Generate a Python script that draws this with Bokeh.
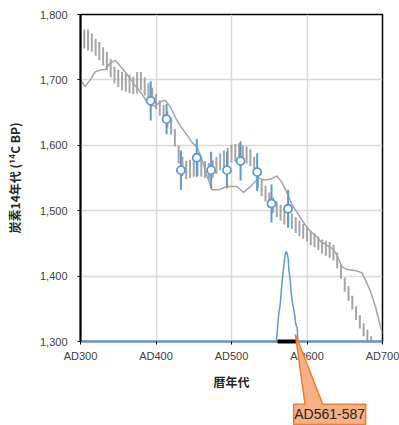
from bokeh.plotting import figure
from bokeh.layouts import column
from bokeh.models import ColumnDataSource, FixedTicker, NumeralTickFormatter, Range1d
from bokeh.core.properties import value
from bokeh.embed import file_html
from bokeh.resources import INLINE

# ---- calibration data (gray bars, every 5 years) ----
cal_years = list(range(300, 705, 5))
cal_high = [1773, 1777, 1777, 1771, 1763, 1758, 1750, 1743, 1732, 1720,
            1715, 1712, 1710, 1708, 1705, 1712, 1712, 1704, 1695, 1688,
            1679, 1669, 1662, 1652, 1642, 1625, 1600, 1583, 1576, 1578,
            1580, 1582, 1580, 1576, 1573, 1577, 1582, 1588, 1592, 1596,
            1601, 1602, 1603, 1600, 1598, 1594, 1582, 1562, 1547, 1538,
            1528, 1520, 1514, 1509, 1503, 1500, 1496, 1490, 1485, 1480,
            1475, 1469, 1465, 1460, 1456, 1454, 1452, 1448, 1436, 1418,
            1398, 1385, 1370, 1354, 1340, 1328, 1318, 1308, 1296, 1284,
            1272]
cal_low = [1743, 1748, 1745, 1743, 1737, 1730, 1722, 1715, 1704, 1695,
           1689, 1684, 1682, 1680, 1678, 1679, 1684, 1676, 1670, 1663,
           1655, 1645, 1637, 1627, 1616, 1598, 1572, 1553, 1548, 1550,
           1552, 1553, 1552, 1550, 1547, 1550, 1556, 1562, 1565, 1570,
           1574, 1575, 1576, 1574, 1572, 1568, 1556, 1535, 1522, 1514,
           1504, 1496, 1490, 1485, 1479, 1476, 1472, 1466, 1461, 1457,
           1453, 1447, 1444, 1440, 1434, 1431, 1428, 1424, 1412, 1396,
           1376, 1362, 1349, 1333, 1320, 1308, 1298, 1288, 1276, 1264,
           1252]

# ---- second calibration curve (gray line) ----
curve_years = [300, 306, 313, 319, 326, 333, 339, 346, 352, 359, 366, 372, 379, 386,
               392, 399, 405, 412, 419, 425, 432, 441, 448, 454, 461, 467, 474, 483,
               494, 507, 516, 526, 536, 543, 551, 560, 567, 574, 580, 587, 600, 613,
               618, 635, 640, 646, 653, 666, 673, 677, 684, 691, 697, 700]
curve_bp = [1700, 1690, 1700, 1712, 1715, 1716, 1725, 1730, 1722, 1712, 1702, 1692, 1682, 1670,
            1661, 1660, 1666, 1669, 1659, 1644, 1630, 1616, 1604, 1598, 1578, 1555, 1532, 1532,
            1537, 1537, 1528, 1538, 1550, 1547, 1548, 1553, 1543, 1526, 1510, 1497, 1474, 1460,
            1453, 1441, 1431, 1415, 1410, 1408, 1405, 1395, 1377, 1352, 1324, 1312]

# ---- measured samples (blue) ----
sample_years = [393, 414, 433, 454, 473, 494, 512, 534, 553, 575]
sample_bp = [1668, 1640, 1562, 1581, 1562, 1562, 1576, 1559, 1511, 1503]
sample_err = [30, 23, 30, 29, 28, 28, 30, 29, 29, 29]

# ---- calibrated probability distribution (relative) ----
prob_years = [300, 559, 560, 561, 562, 563, 564, 565, 566, 567, 568, 569, 570, 571, 572,
              573, 574, 575, 576, 577, 578, 579, 580, 581, 582, 583, 584, 585, 586, 587,
              588, 700]
prob_vals = [0, 0, 0.05, 0.15, 0.26, 0.33, 0.38, 0.46, 0.58, 0.66, 0.75, 0.82, 0.90, 0.96,
             1.00, 1.00, 0.97, 0.93, 0.80, 0.74, 0.66, 0.55, 0.48, 0.42, 0.38, 0.33, 0.28,
             0.20, 0.17, 0.16, 0, 0]

range_start = 561
range_end = 587

x_ticks = [300, 400, 500, 600, 700]
x_tick_labels = ["AD300", "AD400", "AD500", "AD600", "AD700"]
y_ticks = [1300, 1400, 1500, 1600, 1700, 1800]

GRAY = "#A5A5A5"
BLUE = "#5B9BD5"
TICK_FONT = "Liberation Sans"
JP_FONT = "Noto Sans CJK JP"

W, H = 399, 425
ML, MR, MT, MB = 80, 17, 14, 84
X0, X1, Y0, Y1 = 300, 700, 1300, 1800

p = figure(width=W, height=H, x_range=Range1d(X0, X1), y_range=Range1d(Y0, Y1),
           output_backend="svg", toolbar_location=None,
           min_border_left=ML, min_border_right=MR, min_border_top=MT, min_border_bottom=MB)
p.extra_y_ranges = {"prob": Range1d(0, 3.65)}

p.background_fill_color = "white"
p.border_fill_color = "white"
p.outline_line_color = "black"
p.outline_line_width = 1.5

# axes
p.xaxis.ticker = FixedTicker(ticks=x_ticks)
p.xaxis.major_label_overrides = {t: l for t, l in zip(x_ticks, x_tick_labels)}
p.yaxis.ticker = FixedTicker(ticks=y_ticks)
p.yaxis.formatter = NumeralTickFormatter(format="0,0")
for ax in (p.xaxis, p.yaxis):
    ax.minor_tick_line_color = None
    ax.major_tick_in = 0
    ax.major_tick_out = 3
    ax.major_tick_line_color = "black"
    ax.axis_line_color = "black"
    ax.axis_line_width = 2
    ax.major_label_text_font = TICK_FONT
    ax.major_label_text_font_size = "11px"
    ax.major_label_text_color = "#404040"
    ax.axis_label_text_font = JP_FONT
    ax.axis_label_text_font_style = "bold"
    ax.axis_label_text_font_size = "12px"
    ax.axis_label_text_color = "#262626"
p.xaxis.axis_line_color = BLUE
p.xaxis.major_label_standoff = 5
p.yaxis.major_label_standoff = 10
p.xaxis.axis_label = "暦年代"
p.yaxis.axis_label = "炭素14年代 (¹⁴C BP)"
p.xaxis.axis_label_standoff = 8
p.yaxis.axis_label_standoff = 14

p.xgrid.ticker = FixedTicker(ticks=x_ticks)
p.ygrid.ticker = FixedTicker(ticks=y_ticks)
p.grid.grid_line_color = "#D9D9D9"
p.grid.grid_line_width = 1.5

# gray calibration bars
cal_src = ColumnDataSource(dict(x=cal_years, lo=cal_low, hi=cal_high))
p.segment(x0="x", y0="lo", x1="x", y1="hi", source=cal_src, line_color=GRAY, line_width=2)

# gray curve
p.line(curve_years, curve_bp, line_color=GRAY, line_width=1.5)

# samples
s_lo = [b - e for b, e in zip(sample_bp, sample_err)]
s_hi = [b + e for b, e in zip(sample_bp, sample_err)]
s_src = ColumnDataSource(dict(x=sample_years, y=sample_bp, lo=s_lo, hi=s_hi))
p.segment(x0="x", y0="lo", x1="x", y1="hi", source=s_src, line_color=BLUE, line_width=2)
p.scatter(x="x", y="y", source=s_src, size=8, marker="circle", fill_color="white",
          line_color=BLUE, line_width=1.8)

# probability distribution
p.line(prob_years, prob_vals, y_range_name="prob", line_color=BLUE, line_width=1.5)

# calibrated range bar (drawn above the axis line)
p.segment(x0=[range_start], y0=[0], x1=[range_end], y1=[0], y_range_name="prob",
          line_color="black", line_width=4, level="overlay")

# ---- transparent overlay figure for the callout (extends outside the frame) ----
fw, fh = W - ML - MR, H - MT - MB
xu = (X1 - X0) / fw
yu = (Y1 - Y0) / fh
ov = figure(width=W, height=H, output_backend="svg", toolbar_location=None,
            x_range=Range1d(X0 - ML * xu, X1 + MR * xu),
            y_range=Range1d(Y0 - MB * yu, Y1 + MT * yu),
            x_axis_location=None, y_axis_location=None, min_border=0)
ov.grid.visible = False
ov.outline_line_color = None
ov.background_fill_alpha = 0
ov.border_fill_alpha = 0
ov.margin = (-H, 0, 0, 0)

tip_x, tip_y = 570, 1311
box_l, box_r, box_t, box_b = 567, 693, 1204, 1173
w_l, w_r = 587, 618
ov.patch([box_l, w_l, tip_x, w_r, box_r, box_r, box_l],
         [box_t, box_t, tip_y, box_t, box_t, box_b, box_b],
         fill_color="#F4B183", line_color="#ED7D31", line_width=1.5)
ov.text(x=[(box_l + box_r) / 2], y=[(box_t + box_b) / 2],
        text=[f"AD{range_start}-{range_end}"], text_align="center",
        text_baseline="middle", text_font=value(TICK_FONT),
        text_font_size="14px", text_color="#262626")

layout = column(p, ov, spacing=0)
open("out.html", "w").write(file_html(layout, INLINE))
